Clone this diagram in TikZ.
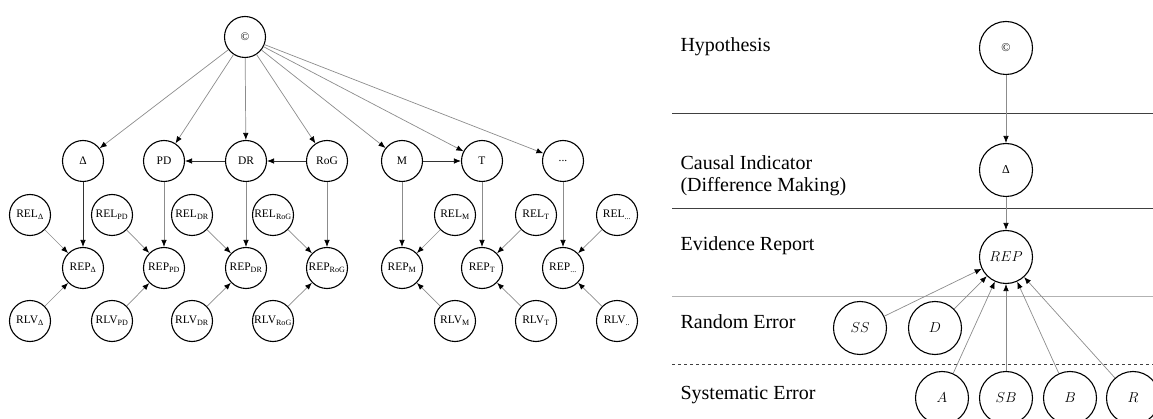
\documentclass[tikz,border=0pt]{standalone}
\usepackage{fontspec}
\setmainfont{Liberation Serif}
\usepackage{tikz}
\usetikzlibrary{arrows.meta}
\tikzset{
  var/.style={
    circle,
    draw,
    line width=1.1pt,
    minimum size=41pt,
    inner sep=0pt,
    font=\fontsize{11.5}{12}\selectfont
  },
  bigvar/.style={var, minimum size=53pt, font=\fontsize{15}{16}\selectfont},
  edge/.style={-{Latex[length=7pt,width=5.5pt,color=black]}, draw=black!45, line width=0.7pt},
  darkedge/.style={edge, draw=black!80},
  layer/.style={anchor=west, align=left, font=\fontsize{20}{22}\selectfont},
  rule/.style={draw=black!75, line width=0.8pt}
}

\begin{document}
\begin{tikzpicture}[x=1pt,y=-1pt]
    \clip (0,0) rectangle (1153,419);

    % left: hypothesis with its indicators
    \node[var] (hyp) at (245,37) {\textcopyright};

    \node[var] (delta) at (83,161) {Δ};
    \node[var] (pd) at (164,161) {PD};
    \node[var] (dr) at (246,161) {DR};
    \node[var] (rog) at (327,161) {RoG};
    \node[var] (m) at (402,161) {M};
    \node[var] (t) at (482,161) {T};
    \node[var] (more) at (563,161) {...};

    \node[var] (reldelta) at (30,215) {REL\textsubscript{Δ}};
    \node[var] (relpd) at (112,215) {REL\textsubscript{PD}};
    \node[var] (reldr) at (192,215) {REL\textsubscript{DR}};
    \node[var] (relrog) at (273,215) {REL\textsubscript{RoG}};
    \node[var] (relm) at (455,215) {REL\textsubscript{M}};
    \node[var] (relt) at (536,215) {REL\textsubscript{T}};
    \node[var] (relmore) at (617,215) {REL\textsubscript{...}};

    \node[var] (repdelta) at (83,268) {REP\textsubscript{Δ}};
    \node[var] (reppd) at (164,268) {REP\textsubscript{PD}};
    \node[var] (repdr) at (246,268) {REP\textsubscript{DR}};
    \node[var] (reprog) at (327,268) {REP\textsubscript{RoG}};
    \node[var] (repm) at (402,268) {REP\textsubscript{M}};
    \node[var] (rept) at (482,268) {REP\textsubscript{T}};
    \node[var] (repmore) at (563,268) {REP\textsubscript{...}};

    \node[var] (rlvdelta) at (30,321) {RLV\textsubscript{Δ}};
    \node[var] (rlvpd) at (112,321) {RLV\textsubscript{PD}};
    \node[var] (rlvdr) at (192,321) {RLV\textsubscript{DR}};
    \node[var] (rlvrog) at (273,321) {RLV\textsubscript{RoG}};
    \node[var] (rlvm) at (455,321) {RLV\textsubscript{M}};
    \node[var] (rlvt) at (536,321) {RLV\textsubscript{T}};
    \node[var] (rlvmore) at (617,321) {RLV\textsubscript{..}};

    \draw[edge] (hyp) -- (delta);
    \draw[edge] (hyp) -- (pd);
    \draw[edge] (hyp) -- (dr);
    \draw[edge] (hyp) -- (rog);
    \draw[edge] (hyp) -- (m);
    \draw[edge] (hyp) -- (t);
    \draw[edge] (hyp) -- (more);

    \draw[darkedge] (dr) -- (pd);
    \draw[darkedge] (rog) -- (dr);
    \draw[darkedge] (m) -- (t);

    \draw[darkedge] (delta) -- (repdelta);
    \draw[edge] (pd) -- (reppd);
    \draw[edge] (dr) -- (repdr);
    \draw[edge] (rog) -- (reprog);
    \draw[edge] (m) -- (repm);
    \draw[edge] (t) -- (rept);
    \draw[edge] (more) -- (repmore);

    \draw[edge] (reldelta) -- (repdelta);
    \draw[edge] (relpd) -- (reppd);
    \draw[edge] (reldr) -- (repdr);
    \draw[edge] (relrog) -- (reprog);
    \draw[edge] (relm) -- (repm);
    \draw[edge] (relt) -- (rept);
    \draw[edge] (relmore) -- (repmore);

    \draw[edge] (rlvdelta) -- (repdelta);
    \draw[edge] (rlvpd) -- (reppd);
    \draw[edge] (rlvdr) -- (repdr);
    \draw[edge] (rlvrog) -- (reprog);
    \draw[edge] (rlvm) -- (repm);
    \draw[edge] (rlvt) -- (rept);
    \draw[edge] (rlvmore) -- (repmore);

    % right: layers
    \draw[rule] (672,113) -- (1153,113);
    \draw[rule] (672,208) -- (1153,208);
    \draw[rule, draw=black!30] (672,296) -- (1153,296);
    \draw[rule, dashed] (672,364) -- (1153,364);

    \node[layer] at (677,47) {Hypothesis};
    \node[layer] at (677,176) {Causal Indicator\\(Difference Making)};
    \node[layer] at (677,246) {Evidence Report};
    \node[layer] at (677,322) {Random Error};
    \node[layer] at (677,395) {Systematic Error};

    \node[bigvar, font=\fontsize{12}{13}\selectfont] (h) at (1006,48) {\textcopyright};
    \node[bigvar, font=\fontsize{12}{13}\selectfont] (ci) at (1006,170) {Δ};
    \node[bigvar] (rep) at (1006,257) {$REP$};
    \node[bigvar] (ss) at (860,328) {$SS$};
    \node[bigvar] (d) at (935,328) {$D$};
    \node[bigvar] (a) at (942,398) {$A$};
    \node[bigvar] (sb) at (1006,398) {$SB$};
    \node[bigvar] (b) at (1070,398) {$B$};
    \node[bigvar] (r) at (1133,398) {$R$};

    \draw[edge] (h) -- (ci);
    \draw[edge] (ci) -- (rep);
    \draw[edge] (ss) -- (rep);
    \draw[edge] (d) -- (rep);
    \draw[edge] (a) -- (rep);
    \draw[edge] (sb) -- (rep);
    \draw[edge] (b) -- (rep);
    \draw[edge] (r) -- (rep);
\end{tikzpicture}
\end{document}
